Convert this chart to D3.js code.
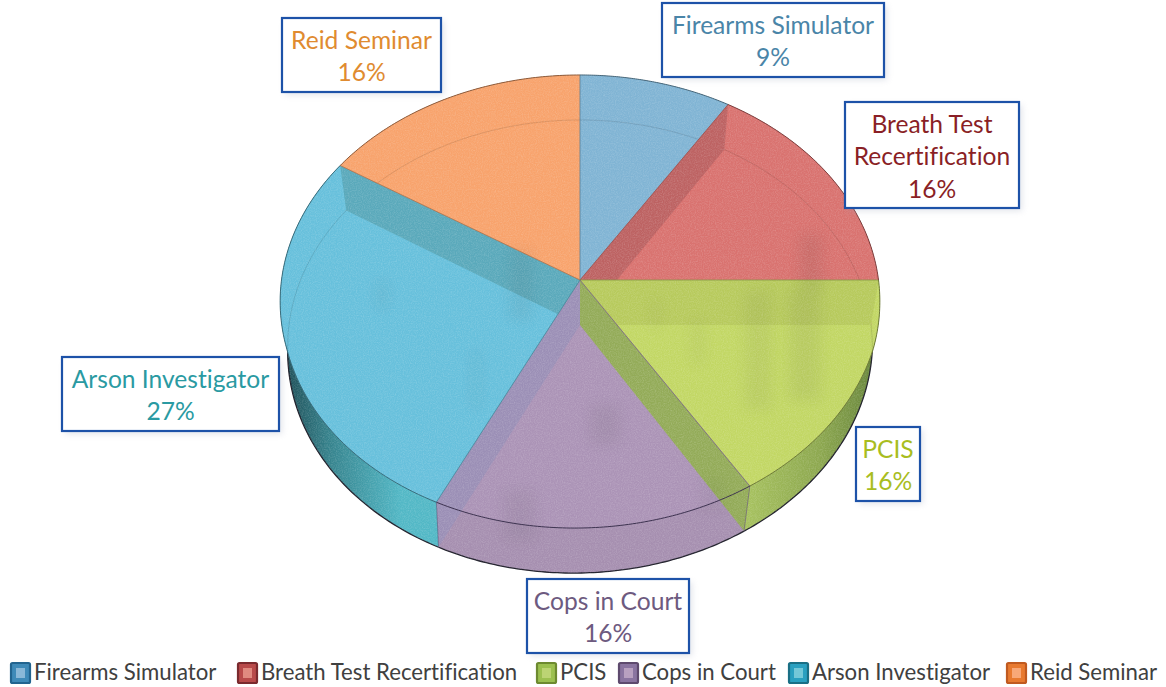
<!DOCTYPE html>
<html><head><meta charset="utf-8">
<script src="https://cdnjs.cloudflare.com/ajax/libs/d3/7.8.5/d3.min.js"></script>
<style>html,body{margin:0;padding:0;background:#fff}svg{display:block}text{font-family:Lato,"Open Sans",sans-serif;font-variant-ligatures:none}</style>
</head><body><svg id="c" width="1166" height="687"></svg>
<script>
const categories=["Firearms Simulator","Breath Test Recertification","PCIS","Cops in Court","Arson Investigator","Reid Seminar"];
const values=[9,16,16,16,27,16];
const labelLines=[["Firearms Simulator"],["Breath Test","Recertification"],["PCIS"],["Cops in Court"],["Arson Investigator"],["Reid Seminar"]];

const topColors=["#80b4d4","#d9726f","#c2d764","#ab93b6","#67c0dc","#f8a36c"];
const sideLight=["#6fa3c0","#b85f5e","#a7c25f","#a68fb0","#52b8c6","#e08f55"];
const sideDark=["#3f6f8a","#7d3a3a","#64823a","#8d7a9c","#2d6a72","#a8622f"];
const wallColors=[null,"#bd6262","#b7ca5c","#93ab58","#9b8fb6","#5aa9bb"];
const wallOver=[0,1,2,3,3,4];
const textColors=["#4a85a8","#8a1f26","#a9bd1f","#6d5a80","#2a9aa2","#e08b30"];
const swatchBorder=["#22648f","#7a2a2e","#6d8a30","#5e4a6e","#1a6f85","#c05a20"];
const swatchFill=["#3f8ab8","#b84a4a","#9cc050","#8a74a0","#2aa0c0","#e87a30"];
const swatchInner=["#8ab8d8","#e08a80","#bcd474","#b8a0c0","#74c8d8","#f8a878"];
const boxes=[[662,3,222,74],[845,102,174,106],[856,427,64,74],[527,579,162,74],[62,357,217,74],[282,18,159,74]];
const legendSwatchX=[11,238,537,619,789,1007];
// faint vertical scan streaks
const streaks=[[800,235,22,55,.09],[790,290,30,110,.07],[745,290,25,120,.06],[510,250,22,70,.07],[375,280,14,30,.04],[590,405,30,40,.08],[505,490,30,50,.07],[470,350,12,60,.03],[650,300,12,30,.04],[690,320,15,45,.04],[700,480,25,30,.05]];

const svg=d3.select("#c"), defs=svg.append("defs");
const pie=d3.pie().sort(null).value(d=>d).startAngle(0).endAngle(2*Math.PI);
const arcs=pie(values);

const k=0.095;
function project(a,r,base){
  const s=Math.sin(a)*r,c=Math.cos(a)*r,w=1+k*c;
  const y=base.cy-224.5*c/w;
  const dx=y>350?-0.03*(y-350):0;
  return [base.cx+base.b*s/w+dx,y];
}
const topP={cx:580,cy:280,b:298.5}, botP={cx:580,cy:325,b:291};
const line=d3.line();
function arcPts(d,base){
  const n=80;
  return d3.range(n+1).map(i=>project(d.startAngle+(d.endAngle-d.startAngle)*i/n,1,base));
}
function wedge(d,base){return line([project(0,0,base)].concat(arcPts(d,base)))+"Z";}
function sideBand(d){return line(arcPts(d,topP).concat(arcPts(d,botP).reverse()))+"Z";}

defs.append("filter").attr("id","blur").attr("x","-50%").attr("width","200%").attr("y","-50%").attr("height","200%")
  .append("feGaussianBlur").attr("stdDeviation",3);
defs.append("filter").attr("id","soft").attr("x","-100%").attr("width","300%").attr("y","-60%").attr("height","220%")
  .append("feGaussianBlur").attr("stdDeviation",7);
const grain=defs.append("filter").attr("id","grain").attr("x",0).attr("y",0).attr("width","100%").attr("height","100%");
grain.append("feTurbulence").attr("type","fractalNoise").attr("baseFrequency",0.85).attr("numOctaves",2).attr("seed",4);
grain.append("feColorMatrix").attr("values","0 0 0 0 1  0 0 0 0 1  0 0 0 0 1  0.9 0 0 0 -0.32");

arcs.forEach((d,i)=>{
  const g=defs.append("linearGradient").attr("id","side"+i).attr("gradientUnits","userSpaceOnUse").attr("y1",0).attr("y2",0);
  const stop=(o,c)=>g.append("stop").attr("offset",o).attr("stop-color",c);
  if(i===2){g.attr("x1",745).attr("x2",880);stop(0,sideLight[i]);stop(.55,"#8da84f");stop(1,sideDark[i]);}
  else if(i===4){g.attr("x1",285).attr("x2",440);stop(0,"#1f4f58");stop(.3,"#37858f");stop(.75,sideLight[i]);stop(1,sideLight[i]);}
  else {g.attr("x1",430).attr("x2",750);stop(0,sideLight[i]);stop(1,sideLight[i]);}
  defs.append("clipPath").attr("id","clip"+i).selectAll("path").data([wedge(d,topP),sideBand(d)]).join("path").attr("d",p=>p);
});
const solid=defs.append("clipPath").attr("id","solid");
arcs.forEach(d=>{
  solid.append("path").attr("d",wedge(d,topP));
  solid.append("path").attr("d",sideBand(d));
  solid.append("path").attr("d",wedge(d,botP));
});
defs.append("clipPath").attr("id","allTop").append("path").attr("d",line(d3.range(361).map(i=>project(i*Math.PI/180,1,topP)))+"Z");

const pieG=svg.append("g");
pieG.append("g").selectAll("path").data(arcs).join("path").attr("d",d=>wedge(d,botP)).attr("fill",(d,i)=>`url(#side${i})`);
pieG.append("g").selectAll("path").data(arcs).join("path").attr("d",d=>sideBand(d)).attr("fill",(d,i)=>`url(#side${i})`);
// silhouette of the base, only seen outside the top face
pieG.append("g").selectAll("path").data(arcs.filter(d=>d.index>=2&&d.index<=4)).join("path")
  .attr("d",d=>line(arcPts(d,botP))).attr("fill","none").attr("stroke","#23232e").attr("stroke-width",1.3);
// top faces
pieG.append("g").selectAll("path").data(arcs).join("path").attr("d",d=>wedge(d,topP)).attr("fill",(d,i)=>topColors[i]);
// base rim seen through the top
pieG.append("g").attr("clip-path","url(#allTop)").selectAll("path").data(arcs).join("path")
  .attr("d",d=>line(arcPts(d,botP))).attr("fill","none")
  .attr("stroke",(d,i)=>d3.color(topColors[i]).darker(0.7)).attr("stroke-width",1).attr("stroke-opacity",0.5);
// internal walls seen through the solid
pieG.append("g").selectAll("path").data(arcs.filter(d=>d.index>0)).join("path")
  .attr("d",d=>line([project(0,0,topP),project(d.startAngle,1,topP),project(d.startAngle,1,botP),project(0,0,botP)])+"Z")
  .attr("fill",d=>wallColors[d.index])
  .attr("clip-path",d=>`url(#clip${wallOver[d.index]})`);
// streaks and grain
pieG.append("g").attr("clip-path","url(#solid)").selectAll("rect").data(streaks).join("rect")
  .attr("x",s=>s[0]).attr("y",s=>s[1]).attr("width",s=>s[2]).attr("height",s=>s[3])
  .attr("fill","#3a3a3a").attr("opacity",s=>s[4]).attr("filter","url(#soft)");
pieG.append("g").attr("clip-path","url(#solid)").append("rect")
  .attr("x",270).attr("y",70).attr("width",620).attr("height",510).attr("filter","url(#grain)").attr("opacity",.35);
// slice edges
pieG.append("g").selectAll("path").data(arcs).join("path")
  .attr("d",d=>line([project(0,0,topP),project(d.startAngle,1,topP)]))
  .attr("fill","none").attr("stroke",d=>d3.color(topColors[d.index]).darker(1)).attr("stroke-width",1).attr("stroke-opacity",0.8);
pieG.append("g").selectAll("path").data(arcs.filter(d=>d.index===3||d.index===4)).join("path")
  .attr("d",d=>line([project(d.startAngle,1,topP),project(d.startAngle,1,botP)]))
  .attr("fill","none").attr("stroke","#55476a").attr("stroke-width",0.8).attr("stroke-opacity",0.6);
// top rim
pieG.append("g").selectAll("path").data(arcs).join("path")
  .attr("d",d=>line(arcPts(d,topP))).attr("fill","none")
  .attr("stroke",(d,i)=>d.index===3?"#3d3350":d3.color(topColors[i]).darker(1.6)).attr("stroke-width",1);

// labels
const lab=svg.append("g").selectAll("g").data(arcs).join("g");
lab.append("rect").attr("x",d=>boxes[d.index][0]+3).attr("y",d=>boxes[d.index][1]+3)
  .attr("width",d=>boxes[d.index][2]).attr("height",d=>boxes[d.index][3])
  .attr("fill","#9aa3b8").attr("opacity",0.28).attr("filter","url(#blur)");
lab.append("rect").attr("x",d=>boxes[d.index][0]).attr("y",d=>boxes[d.index][1])
  .attr("width",d=>boxes[d.index][2]).attr("height",d=>boxes[d.index][3])
  .attr("fill","#fff").attr("stroke","#1d52a8").attr("stroke-width",2.2);
lab.each(function(d){
  const i=d.index,b=boxes[i],lines=labelLines[i].concat([values[i]+"%"]);
  const g=d3.select(this),cx=b[0]+b[2]/2;
  const lh=32.5, y0=b[1]+b[3]/2-(lines.length-1)*lh/2+10;
  g.selectAll("text").data(lines).join("text")
    .attr("x",cx).attr("y",(t,j)=>y0+j*lh).attr("text-anchor","middle")
    .attr("font-size",24.6).attr("fill",textColors[i]).text(t=>t);
});

// legend
const leg=svg.append("g").selectAll("g").data(categories).join("g")
  .attr("transform",(c,i)=>`translate(${legendSwatchX[i]},663)`);
leg.append("rect").attr("x",0).attr("y",0).attr("width",19).attr("height",20).attr("rx",1.5)
  .attr("fill",(c,i)=>swatchFill[i]).attr("stroke",(c,i)=>swatchBorder[i]).attr("stroke-width",2.2);
leg.append("rect").attr("x",5).attr("y",5).attr("width",9).attr("height",10).attr("fill",(c,i)=>swatchInner[i]);
leg.append("text").attr("x",23).attr("y",17).attr("font-size",22.2).attr("fill","#404040").text(c=>c);
</script></body></html>
